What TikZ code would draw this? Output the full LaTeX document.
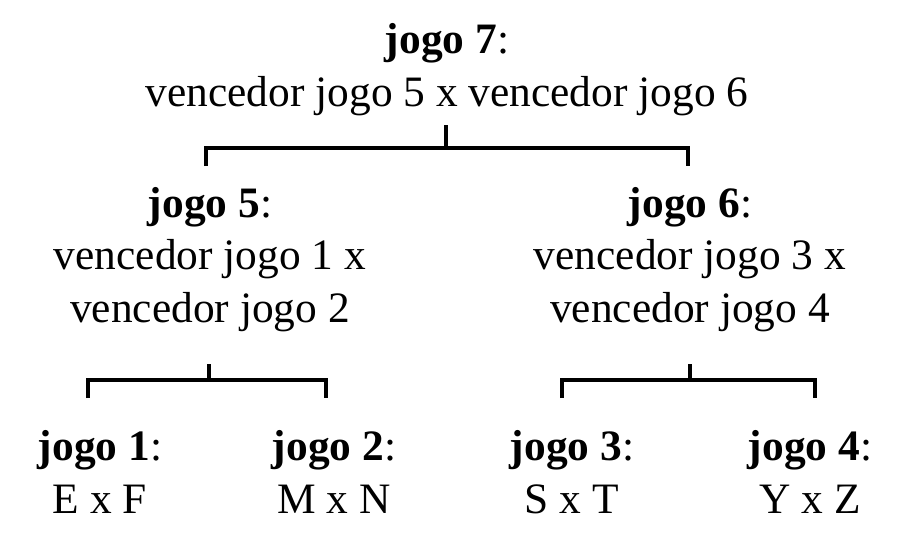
\documentclass[tikz,border=0pt]{standalone}
\usepackage{fontspec}
\setmainfont{Liberation Serif}
\begin{document}
\begin{tikzpicture}[x=1pt,y=-1pt,
  game/.style={align=center,anchor=base,inner sep=0pt,font=\fontsize{43.4}{52.5}\selectfont},
  conn/.style={line width=4pt,line join=miter}]
\useasboundingbox (0,0) rectangle (900,550);
% nodes (anchored at the baseline of their last line)
\node[game] (g7) at (447,106) {\textbf{jogo 7}:\\vencedor jogo 5 x vencedor jogo 6};
\node[game] (g5) at (210,322) {\textbf{jogo 5}:\\vencedor jogo 1 x\\vencedor jogo 2};
\node[game] (g6) at (690,322) {\textbf{jogo 6}:\\vencedor jogo 3 x\\vencedor jogo 4};
\node[game] (g1) at (100,513) {\textbf{jogo 1}:\\E x F};
\node[game] (g2) at (334,513) {\textbf{jogo 2}:\\M x N};
\node[game] (g3) at (572,513) {\textbf{jogo 3}:\\S x T};
\node[game] (g4) at (810,513) {\textbf{jogo 4}:\\Y x Z};
% bracket coordinates
\coordinate (t7) at (446,125);
\coordinate (l7) at (206,166);
\coordinate (r7) at (688,166);
\coordinate (t5) at (209,364);
\coordinate (l5) at (88,398);
\coordinate (r5) at (326,398);
\coordinate (t6) at (690,364);
\coordinate (l6) at (562,398);
\coordinate (r6) at (815,398);
% connectors
\draw[conn] (t7) -- ++(0,23) coordinate (m7);
\draw[conn] (l7) |- (r7 |- m7) -- (r7);
\draw[conn] (t5) -- ++(0,16) coordinate (m5);
\draw[conn] (l5) |- (r5 |- m5) -- (r5);
\draw[conn] (t6) -- ++(0,16) coordinate (m6);
\draw[conn] (l6) |- (r6 |- m6) -- (r6);
\end{tikzpicture}
\end{document}
